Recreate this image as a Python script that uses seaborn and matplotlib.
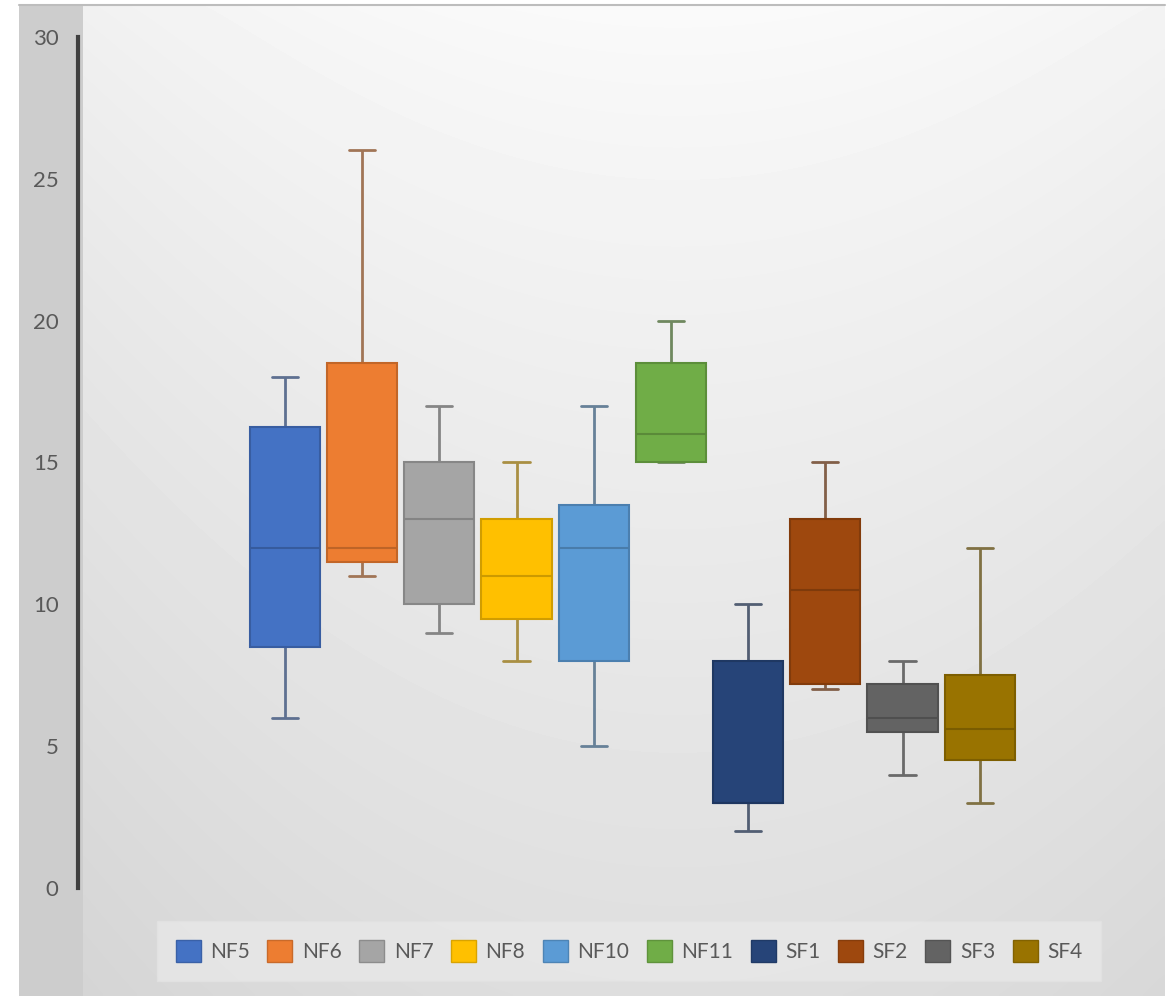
"""
Box plot: NF / SF groups (five-number summaries read off the chart)
"""

import numpy as np
import pandas as pd
import matplotlib
matplotlib.use('Agg')
import matplotlib.pyplot as plt
import matplotlib.patches as mpatches
import matplotlib.colors as mcolors
import seaborn as sns

# ── data ───────────────────────────────────────────────
groups = ['NF5', 'NF6', 'NF7', 'NF8', 'NF10', 'NF11', 'SF1', 'SF2', 'SF3', 'SF4']
box_colors = ['#4472c4', '#ed7d31', '#a5a5a5', '#ffc000', '#5b9bd5',
              '#70ad47', '#264478', '#9e480e', '#636363', '#997300']

whisker_low  = [6,     11,   9,  8,   5,    15,   2, 7.0, 4,   3]
q1           = [8.5,   11.5, 10, 9.5, 8,    15,   3, 7.2, 5.5, 4.5]
median       = [12,    12,   13, 11,  12,   16,   3, 10.5, 6,  5.6]
q3           = [16.25, 18.5, 15, 13,  13.5, 18.5, 8, 13,  7.2, 7.5]
whisker_high = [18,    26,   17, 15,  17,   20,   10, 15, 8,   12]

y_ticks = [0, 5, 10, 15, 20, 25, 30]

# long table: 5 values per group -> quartiles land exactly on q1/median/q3
rows = []
for i, g in enumerate(groups):
    for v in (whisker_low[i], q1[i], median[i], q3[i], whisker_high[i]):
        rows.append({'group': g, 'value': v})
df = pd.DataFrame(rows)

# ── style ──────────────────────────────────────────────
sns.set_style("white")
plt.rcParams['font.family'] = ['Lato', 'DejaVu Sans']

W, H = 1176, 996
fig = plt.figure(figsize=(W / 100, H / 100), dpi=100)
fig.patch.set_facecolor('white')

# background: gray strip on the left + soft gradient chart area
fig.patches.append(mpatches.Rectangle((19 / W, 0), (83 - 19) / W, 1 - 5 / H,
                                      transform=fig.transFigure,
                                      facecolor='#cdcdcd', edgecolor='none', zorder=0))
bg = fig.add_axes([83 / W, 0, (1165 - 83) / W, 1 - 6 / H], zorder=0)
yy, xx = np.mgrid[0:1:300j, 0:1:300j]
shade = 0.98 - 0.11 * yy ** 0.9 - 0.12 * (xx - 0.55) ** 2
bg.imshow(shade, cmap='gray', vmin=0, vmax=1, aspect='auto', extent=(0, 1, 1, 0),
          interpolation='bilinear')
bg.axis('off')
fig.add_artist(plt.Line2D([19 / W, 1165 / W], [1 - 5.5 / H, 1 - 5.5 / H],
                          transform=fig.transFigure, color='#bdbdbd', lw=1.5))

ax = fig.add_axes([78 / W, 1 - 888 / H, (1165 - 78) / W, (888 - 37) / H], zorder=2)
ax.patch.set_alpha(0)

sns.boxplot(data=df, x='group', y='value', hue='group', palette=box_colors,
            whis=(0, 100), width=0.91, saturation=1, linewidth=1.5,
            showfliers=False, legend=False, ax=ax, capwidths=0.34,
            medianprops={'gid': 'median'})


def shade_of(c, f):
    r, g, b = mcolors.to_rgb(c)
    return (r * f, g * f, b * f)


def mix(c1, c2, t):
    a = np.array(mcolors.to_rgb(c1))
    b = np.array(mcolors.to_rgb(c2))
    return tuple(a * (1 - t) + b * t)


for p in ax.patches:
    ext = p.get_path().vertices[:, 0]
    i = int(round(ext.mean()))
    p.set_facecolor(box_colors[i])
    p.set_edgecolor(shade_of(box_colors[i], 0.82))

for ln in ax.lines:
    xd = np.asarray(ln.get_xdata(), dtype=float)
    if xd.size == 0:
        continue
    i = int(round(xd.mean()))
    if ln.get_gid() == 'median':
        ln.set_color(shade_of(box_colors[i], 0.8))
        ln.set_linewidth(1.5)
    else:
        ln.set_color(mix(box_colors[i], '#6f6f6f', 0.6))
        ln.set_linewidth(2)
        ln.set_zorder(1)

# x positions: box centres at pixel ~285 .. ~980
ax.set_xlim(-2.68, 11.40)
ax.set_ylim(0, 30)
ax.set_yticks(y_ticks)
ax.set_xticks([])
ax.set_xlabel('')
ax.set_ylabel('')
ax.tick_params(axis='y', length=0, pad=14, labelsize=16, labelcolor='#595959')
for side in ('top', 'right', 'bottom'):
    ax.spines[side].set_visible(False)
ax.spines['left'].set_linewidth(3)
ax.spines['left'].set_color('#404040')

handles = [mpatches.Patch(facecolor=c, edgecolor=shade_of(c, 0.85), label=g)
           for g, c in zip(groups, box_colors)]
leg = fig.legend(handles=handles, loc='center', bbox_to_anchor=(629 / W, 1 - 951 / H),
                 ncol=len(groups), fontsize=15, frameon=True, fancybox=False,
                 handlelength=1.2, handleheight=1.2, handletextpad=0.45,
                 columnspacing=0.85, borderpad=0.9)
leg.get_frame().set_facecolor('#e8e8e8')
leg.get_frame().set_edgecolor('#e2e2e2')
for t in leg.get_texts():
    t.set_color('#595959')

fig.savefig('out.png', dpi=100)
plt.close()
